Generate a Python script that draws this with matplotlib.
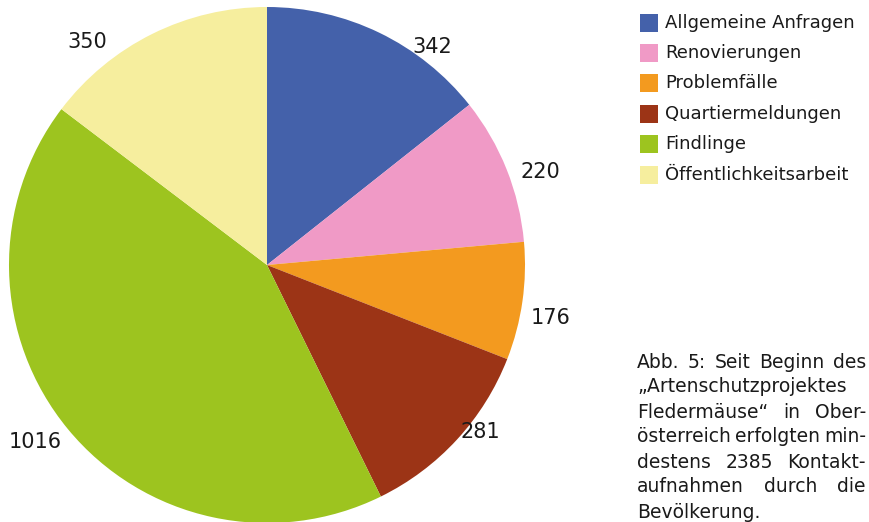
import numpy as np
import matplotlib
matplotlib.use('Agg')
import matplotlib.pyplot as plt

plt.rcParams['font.family'] = ['DejaVu Sans']

# data
categories = ['Allgemeine Anfragen', 'Renovierungen', 'Problemfälle',
              'Quartiermeldungen', 'Findlinge', 'Öffentlichkeitsarbeit']
counts = [342, 220, 176, 281, 1016, 350]
colors = ['#4461aa', '#f09ac6', '#f39a1f', '#9c3416', '#9dc41f', '#f6ee9e']

caption_lines = ['Abb. 5: Seit Beginn des',
                 '„Artenschutzprojektes',
                 'Fledermäuse“ in Ober-',
                 'österreich erfolgten min-',
                 'destens 2385 Kontakt-',
                 'aufnahmen durch die',
                 'Bevölkerung.']

W, H = 870, 522
fig = plt.figure(figsize=(W / 100, H / 100), dpi=100)

# pie axes: centre (267, 265) px, radius 258 px
cx, cy, r = 267, 265, 258
ax = fig.add_axes([(cx - r) / W, (H - cy - r) / H, 2 * r / W, 2 * r / H])
wedges, _ = ax.pie(counts, colors=colors, startangle=90, counterclock=False,
                   radius=1.0, wedgeprops=dict(linewidth=0))
ax.set_xlim(-1, 1)
ax.set_ylim(-1, 1)
ax.set_aspect('equal')
ax.axis('off')

# value labels (angle in degrees, distance relative to radius)
label_pos = [(52.9, 1.06), (18.7, 1.12), (-10.6, 1.12),
             (-38.0, 1.05), (-142.5, 1.13), (128.9, 1.11)]
for val, (ang, dist) in zip(counts, label_pos):
    a = np.deg2rad(ang)
    ax.text(dist * np.cos(a), dist * np.sin(a), str(val), ha='center', va='center',
            fontsize=15, color='#1a1a1a', clip_on=False)

# legend drawn by hand
row_y = [23, 53, 83, 114, 144, 175]
for name, col, y in zip(categories, colors, row_y):
    fig.patches.append(plt.Rectangle((640 / W, 1 - (y + 9) / H), 18 / W, 18 / H,
                                     transform=fig.transFigure, color=col, lw=0))
    fig.text(665 / W, 1 - y / H, name, ha='left', va='center', fontsize=13,
             color='#1a1a1a')

# caption, justified like the original
fig.canvas.draw()
renderer = fig.canvas.get_renderer()
left, right = 637, 866
cap_fs = 13.5
for i, line in enumerate(caption_lines):
    y = 1 - (362 + i * 25) / H
    words = line.split(' ')
    if i == len(caption_lines) - 1 or len(words) == 1:
        fig.text(left / W, y, line, ha='left', va='center', fontsize=cap_fs, color='#1a1a1a')
        continue
    widths = []
    for w in words:
        t = fig.text(0, 0, w, fontsize=cap_fs)
        widths.append(t.get_window_extent(renderer).width)
        t.remove()
    gap = (right - left - sum(widths)) / (len(words) - 1)
    x = left
    for w, wd in zip(words, widths):
        fig.text(x / W, y, w, ha='left', va='center', fontsize=cap_fs, color='#1a1a1a')
        x += wd + gap

fig.savefig('out.png', dpi=100, facecolor='white')
